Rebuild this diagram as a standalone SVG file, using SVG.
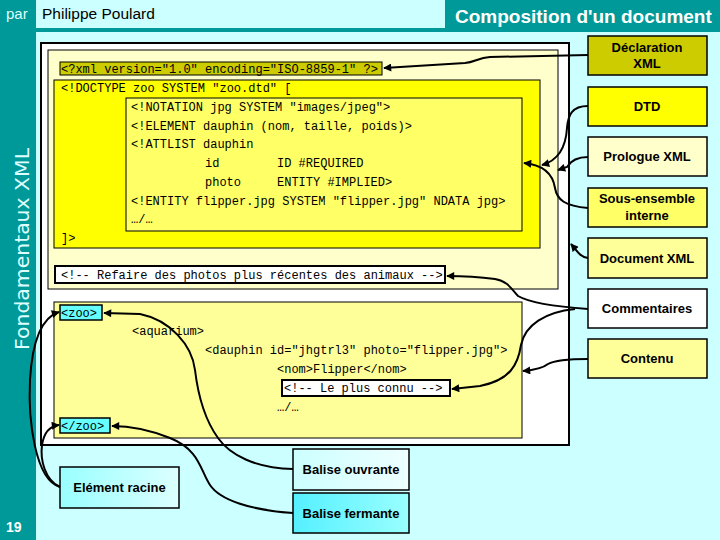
<svg xmlns="http://www.w3.org/2000/svg" width="720" height="540" viewBox="0 0 720 540">
<style>
.code{font-family:"Liberation Mono",monospace;font-size:12px;fill:#000}
.lbl{font-family:"Liberation Sans",Arial,sans-serif;font-size:13px;font-weight:bold;fill:#000;text-anchor:middle}
.bx{stroke:#000;stroke-width:1.5}
.thin{stroke:#000;stroke-width:1}
.con{fill:none;stroke:#000;stroke-width:2;marker-end:url(#ah)}
</style>
<defs>
<marker id="ah" viewBox="0 0 10 10" refX="9" refY="5" markerWidth="9" markerHeight="8" markerUnits="userSpaceOnUse" orient="auto">
<path d="M0,0 L10,5 L0,10 z" fill="#000"/>
</marker>
<linearGradient id="gRac" x1="0" y1="0" x2="1" y2="0"><stop offset="0" stop-color="#99ffff"/><stop offset="1" stop-color="#ddffff"/></linearGradient>
<linearGradient id="gOuv" x1="0" y1="0" x2="1" y2="0"><stop offset="0" stop-color="#ccffff"/><stop offset="1" stop-color="#eeffff"/></linearGradient>
<linearGradient id="gFer" x1="0" y1="0" x2="1" y2="0"><stop offset="0" stop-color="#55f0ff"/><stop offset="1" stop-color="#99ffff"/></linearGradient>
</defs>
<!-- background -->
<rect x="0" y="0" width="720" height="540" fill="#ccffff"/>
<rect x="0" y="0" width="36" height="540" fill="#009999"/>
<rect x="36" y="28" width="684" height="4" fill="#009999"/>
<rect x="445" y="0" width="275" height="30" fill="#009999"/>
<text x="6" y="19" font-family="Liberation Sans,Arial,sans-serif" font-size="15" fill="#ddffff">par</text>
<text x="42" y="19" font-family="Liberation Sans,Arial,sans-serif" font-size="15.5" fill="#000">Philippe Poulard</text>
<text x="455" y="23" font-family="Liberation Sans,Arial,sans-serif" font-size="19" font-weight="bold" fill="#ffffff">Composition d'un document</text>
<text transform="translate(29,350) rotate(-90)" font-family="DejaVu Sans,sans-serif" font-size="19" fill="#ddffff" textLength="202" lengthAdjust="spacingAndGlyphs">Fondamentaux XML</text>
<text x="6" y="532" font-family="Liberation Sans,Arial,sans-serif" font-size="14" font-weight="bold" fill="#ffffff">19</text>

<!-- document -->
<g id="document">
<rect x="41" y="43" width="528" height="402" fill="#ffffff" stroke="#000" stroke-width="2"/>
</g>
<g id="prologue">
<rect x="48" y="50" width="510" height="239" fill="#ffffcc" class="thin"/>
</g>
<g id="declaration">
<rect x="60" y="62" width="322" height="13" fill="#cccc00" class="thin"/>
<text class="code" x="61" y="73">&lt;?xml version="1.0" encoding="ISO-8859-1" ?&gt;</text>
</g>
<g id="dtd">
<rect x="54" y="80" width="486" height="168" fill="#ffff00" class="thin"/>
<text class="code" x="61" y="92">&lt;!DOCTYPE zoo SYSTEM "zoo.dtd" [</text>
<text class="code" x="61" y="242">]&gt;</text>
</g>
<g id="sous-ensemble">
<rect x="126" y="98" width="396" height="133" fill="#ffff66" class="thin"/>
<text class="code" x="131" y="111">&lt;!NOTATION jpg SYSTEM "images/jpeg"&gt;</text>
<text class="code" x="131" y="130">&lt;!ELEMENT dauphin (nom, taille, poids)&gt;</text>
<text class="code" x="131" y="148">&lt;!ATTLIST dauphin</text>
<text class="code" x="205" y="167">id</text>
<text class="code" x="277" y="167">ID #REQUIRED</text>
<text class="code" x="205" y="186">photo</text>
<text class="code" x="277" y="186">ENTITY #IMPLIED&gt;</text>
<text class="code" x="131" y="205">&lt;!ENTITY flipper.jpg SYSTEM "flipper.jpg" NDATA jpg&gt;</text>
<text class="code" x="131" y="223">…/…</text>
</g>
<g id="commentaire1">
<rect x="55" y="266" width="390" height="17" fill="#ffffff" stroke="#000" stroke-width="2"/>
<text class="code" x="61" y="279">&lt;!-- Refaire des photos plus récentes des animaux --&gt;</text>
</g>
<g id="contenu">
<rect x="54" y="302" width="468" height="136" fill="#ffff99" class="thin"/>
<rect x="60" y="305" width="42" height="15" fill="#66ffff" class="bx"/>
<text class="code" x="61" y="317">&lt;zoo&gt;</text>
<text class="code" x="132" y="335">&lt;aquarium&gt;</text>
<text class="code" x="205" y="354">&lt;dauphin id="jhgtrl3" photo="flipper.jpg"&gt;</text>
<text class="code" x="277" y="373">&lt;nom&gt;Flipper&lt;/nom&gt;</text>
<rect x="282" y="380" width="168" height="16" fill="#ffffff" stroke="#000" stroke-width="2"/>
<text class="code" x="284" y="392">&lt;!-- Le plus connu --&gt;</text>
<text class="code" x="277" y="411">…/…</text>
<rect x="60" y="418" width="50" height="15" fill="#66ffff" class="bx"/>
<text class="code" x="61" y="430">&lt;/zoo&gt;</text>
</g>

<!-- labels -->
<g id="lbl-declaration"><rect x="588" y="36" width="119" height="39" fill="#cccc00" class="bx"/><text class="lbl" x="647" y="52">Déclaration</text><text class="lbl" x="647" y="68">XML</text></g>
<g id="lbl-dtd"><rect x="588" y="87" width="119" height="39" fill="#ffff00" class="bx"/><text class="lbl" x="647" y="111">DTD</text></g>
<g id="lbl-prologue"><rect x="588" y="137" width="119" height="39" fill="#ffffcc" class="bx"/><text class="lbl" x="647" y="161">Prologue XML</text></g>
<g id="lbl-sous-ensemble"><rect x="588" y="188" width="119" height="39" fill="#ffff66" class="bx"/><text class="lbl" x="647" y="203">Sous-ensemble</text><text class="lbl" x="647" y="220">interne</text></g>
<g id="lbl-document"><rect x="588" y="238" width="119" height="40" fill="#ffff99" class="bx"/><text class="lbl" x="647" y="263">Document XML</text></g>
<g id="lbl-commentaires"><rect x="588" y="289" width="119" height="39" fill="#ffffff" class="bx"/><text class="lbl" x="647" y="313">Commentaires</text></g>
<g id="lbl-contenu"><rect x="588" y="339" width="119" height="39" fill="#ffff99" class="bx"/><text class="lbl" x="647" y="363">Contenu</text></g>
<g id="lbl-racine"><rect x="60" y="467" width="119" height="41" fill="url(#gRac)" class="bx"/><text class="lbl" x="119.5" y="492">Elément racine</text></g>
<g id="lbl-ouvrante"><rect x="293" y="449" width="116" height="41" fill="url(#gOuv)" class="bx"/><text class="lbl" x="351" y="474">Balise ouvrante</text></g>
<g id="lbl-fermante"><rect x="293" y="493" width="116" height="40" fill="url(#gFer)" class="bx"/><text class="lbl" x="351" y="518">Balise fermante</text></g>

<!-- connectors -->
<g id="connectors">
<path class="con" d="M588,55 L490,57 C478,58 475,62 465,63 L384,68"/>
<path class="con" d="M588,106 C572,106 568,115 567,128 C566,145 560,160 542,165"/>
<path class="con" d="M588,157 C576,157 570,162 567,167 L558,170"/>
<path class="con" d="M588,208 C565,206 557,200 555,188 C553,175 545,165 524,163"/>
<path class="con" d="M588,258 C580,257 577,251 571,244"/>
<path class="con" d="M588,309 C560,307 530,303 518,296 C512,290 508,281 495,279 C480,277 470,276 447,276"/>
<path class="con" d="M575,309 C545,312 525,325 521,345 C518,365 510,380 480,386 L452,389"/>
<path class="con" d="M588,359 C570,359 555,360 548,364 C543,368 535,370 523,371"/>
<path class="con" d="M60,487 C35,480 28,420 30,380 C32,345 40,318 59,312"/>
<path class="con" d="M60,487 C45,480 40,460 42,445 C44,432 50,426 59,425"/>
<path class="con" d="M293,469 C255,468 230,455 218,438 C205,420 198,395 195,370 C192,345 170,320 140,314 L104,313"/>
<path class="con" d="M293,513 C250,510 220,500 210,485 C200,470 200,450 170,438 C150,430 130,426 112,426"/>
</g>
</svg>
